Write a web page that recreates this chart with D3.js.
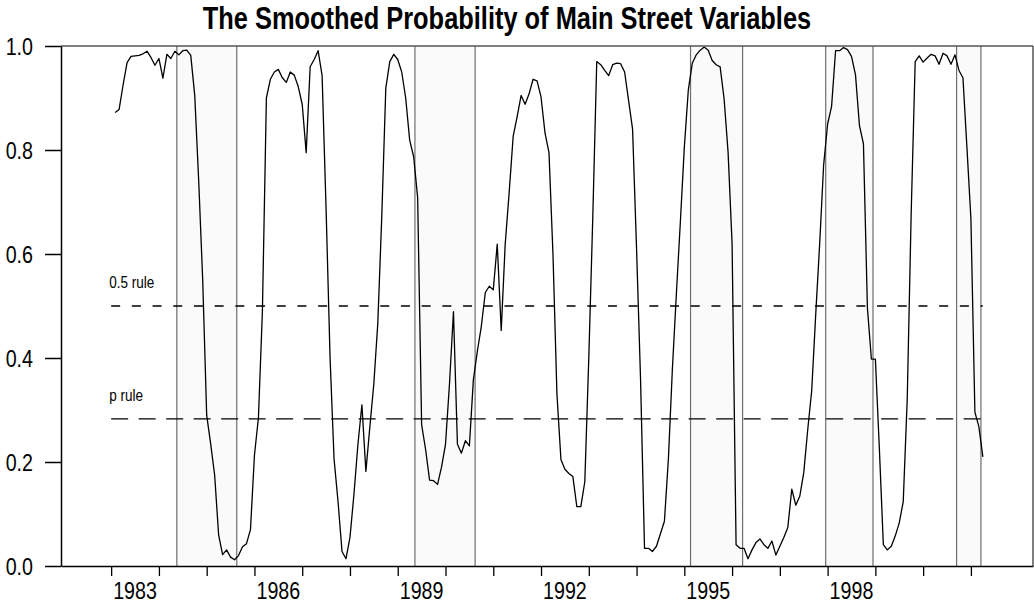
<!DOCTYPE html>
<html>
<head>
<meta charset="utf-8">
<script src="https://cdn.jsdelivr.net/npm/d3@7"></script>
<style>
  html, body { margin: 0; padding: 0; background: #fff; }
  svg { display: block; }
  text { font-family: "Liberation Sans", Arial, sans-serif; }
</style>
</head>
<body>
<svg id="chart" width="1034" height="606"></svg>
<script>
// ---------------- data ----------------
const titleText = "The Smoothed Probability of Main Street Variables";
const startYear = 1983;
const startMonth = 2; // February 1983, monthly observations
const probValues = [
  0.872, 0.878, 0.925, 0.968, 0.980, 0.981, 0.982, 0.985, 0.990, 0.978, 0.963,
  0.976, 0.938, 0.984, 0.976, 0.990, 0.983, 0.991, 0.992, 0.982, 0.905, 0.740, 0.550,
  0.290, 0.235, 0.175, 0.060, 0.022, 0.031, 0.017, 0.012, 0.020, 0.037, 0.043, 0.070,
  0.213, 0.285, 0.490, 0.900, 0.936, 0.950, 0.955, 0.939, 0.930, 0.950, 0.944, 0.922,
  0.888, 0.795, 0.960, 0.974, 0.991, 0.943, 0.686, 0.400, 0.206, 0.124, 0.028, 0.014,
  0.055, 0.138, 0.234, 0.310, 0.182, 0.268, 0.351, 0.468, 0.675, 0.919, 0.970, 0.984,
  0.974, 0.950, 0.900, 0.819, 0.787, 0.709, 0.272, 0.224, 0.165, 0.164, 0.157, 0.190,
  0.234, 0.350, 0.489, 0.234, 0.217, 0.241, 0.231, 0.358, 0.413, 0.461, 0.526, 0.538,
  0.531, 0.619, 0.453, 0.619, 0.719, 0.826, 0.864, 0.905, 0.888, 0.908, 0.936, 0.933,
  0.902, 0.833, 0.795, 0.600, 0.330, 0.205, 0.186, 0.178, 0.172, 0.114, 0.114, 0.162,
  0.400, 0.670, 0.970, 0.964, 0.953, 0.943, 0.964, 0.967, 0.966, 0.950, 0.895, 0.840,
  0.610, 0.360, 0.034, 0.034, 0.028, 0.038, 0.062, 0.086, 0.206, 0.379, 0.523, 0.661,
  0.805, 0.915, 0.967, 0.983, 0.992, 0.998, 0.992, 0.972, 0.964, 0.960, 0.898, 0.795,
  0.620, 0.041, 0.034, 0.034, 0.014, 0.031, 0.045, 0.052, 0.041, 0.034, 0.048, 0.021,
  0.038, 0.055, 0.074, 0.148, 0.117, 0.134, 0.179, 0.262, 0.337, 0.482, 0.619, 0.771,
  0.850, 0.884, 0.991, 0.991, 0.997, 0.993, 0.980, 0.945, 0.847, 0.812, 0.496, 0.398,
  0.398, 0.226, 0.041, 0.031, 0.038, 0.058, 0.083, 0.124, 0.320, 0.680, 0.970, 0.981,
  0.969, 0.977, 0.984, 0.981, 0.965, 0.986, 0.981, 0.965, 0.983, 0.953, 0.939, 0.805,
  0.668, 0.296, 0.268, 0.210
];
const shadeStarts = [1984.375, 1989.36, 1995.13, 1997.96, 2000.70];
const shadeEnds   = [1985.63, 1990.62, 1996.22, 1998.95, 2001.21];
const ruleNames  = ["0.5 rule", "p rule"];
const ruleValues = [0.5, 0.283];
const ruleSpan   = [1983.0, 2001.25];
const yTickValues = [0, 0.2, 0.4, 0.6, 0.8, 1.0];
const yTickLabels = ["0.0", "0.2", "0.4", "0.6", "0.8", "1.0"];
const xTickYears  = d3.range(1983, 2002);
const xLabelYears = [1983, 1986, 1989, 1992, 1995, 1998];
const xDomain = [1981.95, 2002.30];

// ---------------- layout ----------------
const svg = d3.select("#chart");
const L = 61, R = 1033, T = 46, B = 566;
const NARROW = 0.82;
const x = d3.scaleLinear().domain(xDomain).range([L, R]);
const y = d3.scaleLinear().domain([0, 1]).range([B, T]);

function narrowText(g, px, py, str, size, anchor, weight) {
  return g.append("text")
    .attr("transform", `translate(${px},${py}) scale(${NARROW},1)`)
    .attr("text-anchor", anchor || "start")
    .attr("font-size", size)
    .attr("font-weight", weight || "normal")
    .attr("fill", "#000")
    .text(str);
}

const series = probValues.map((v, i) => ({ t: startYear + (startMonth - 1 + i) / 12, v }));

// shaded periods
const shades = shadeStarts.map((s, i) => ({ s, e: shadeEnds[i] }));
svg.append("g").selectAll("rect").data(shades).join("rect")
  .attr("x", d => x(d.s)).attr("y", T)
  .attr("width", d => x(d.e) - x(d.s)).attr("height", B - T)
  .attr("fill", "#fafafa");
svg.append("g").selectAll("line").data(shades.flatMap(d => [d.s, d.e])).join("line")
  .attr("x1", d => x(d)).attr("x2", d => x(d))
  .attr("y1", T).attr("y2", B)
  .attr("stroke", "#6e6e6e").attr("stroke-width", 1.2);

// rules
const rules = ruleNames.map((n, i) => ({ n, v: ruleValues[i] }));
svg.append("g").selectAll("line").data(rules).join("line")
  .attr("x1", x(ruleSpan[0])).attr("x2", x(ruleSpan[1]))
  .attr("y1", d => y(d.v)).attr("y2", d => y(d.v))
  .attr("stroke", "#000").attr("stroke-width", 1.4)
  .attr("stroke-dasharray", (d, i) => i === 0 ? "9,11.7" : "17,10.5");
const ruleLabelG = svg.append("g");
rules.forEach(d => narrowText(ruleLabelG, x(ruleSpan[0]) - 2, y(d.v) - 18, d.n, 16.5));

// series line
svg.append("path").datum(series)
  .attr("fill", "none").attr("stroke", "#000").attr("stroke-width", 1.3)
  .attr("stroke-linejoin", "round")
  .attr("d", d3.line().x(d => x(d.t)).y(d => y(d.v)));

// frame
svg.append("line").attr("x1", L).attr("x2", R).attr("y1", T).attr("y2", T)
  .attr("stroke", "#555").attr("stroke-width", 1.5);
svg.append("line").attr("x1", R).attr("x2", R).attr("y1", T).attr("y2", B)
  .attr("stroke", "#555").attr("stroke-width", 1.5);

// y axis
const yAxis = svg.append("g").attr("transform", `translate(${L},0)`)
  .call(d3.axisLeft(y).tickValues(yTickValues).tickFormat("")
    .tickSize(16).tickSizeOuter(0));
yAxis.select(".domain").attr("stroke", "#000").attr("stroke-width", 1.5);
yAxis.selectAll(".tick line").attr("stroke", "#000").attr("stroke-width", 1.5);
const yLabG = svg.append("g");
yTickValues.forEach((v, i) => narrowText(yLabG, 33, y(v) + 8.5, yTickLabels[i], 24, "end"));

// x axis
const xAxis = svg.append("g").attr("transform", `translate(0,${B})`)
  .call(d3.axisBottom(x).tickValues(xTickYears).tickFormat("")
    .tickSize(10).tickSizeOuter(0));
xAxis.select(".domain").attr("stroke", "#000").attr("stroke-width", 1.5);
xAxis.selectAll(".tick line").attr("stroke", "#000").attr("stroke-width", 1.3);
const xLabG = svg.append("g");
xLabelYears.forEach(yr => narrowText(xLabG, x(yr + 0.5), 599, String(yr), 24, "middle"));

// title
narrowText(svg, 507, 29, titleText, 31, "middle", "bold");
</script>
</body>
</html>
